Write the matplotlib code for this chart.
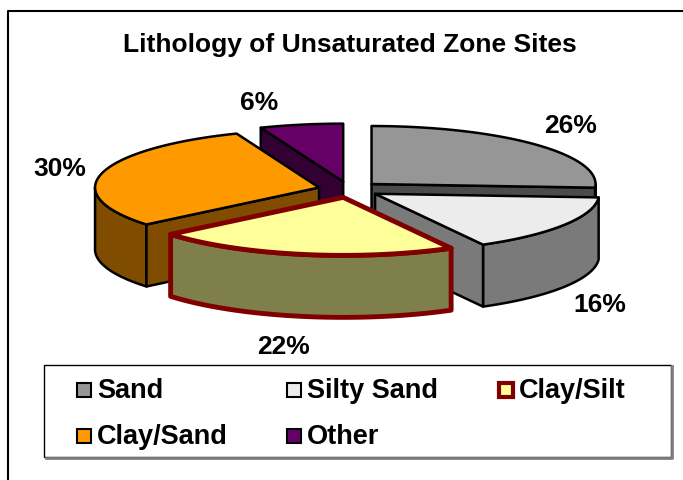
import numpy as np
import matplotlib.pyplot as plt
from matplotlib.patches import Polygon, Rectangle
from matplotlib.lines import Line2D

plt.rcParams['font.family'] = ['Liberation Sans', 'DejaVu Sans']

# Pie data
labels = ['Sand', 'Silty Sand', 'Clay/Silt', 'Clay/Sand', 'Other']
values = [26, 16, 22, 30, 6]
top_colors = ['#969696', '#ececec', '#ffff99', '#ff9900', '#660066']
side_colors = ['#4b4b4b', '#7a7a7a', '#7f7f4c', '#7f4c00', '#330033']
edge_colors = ['black', 'black', '#800000', 'black', 'black']
edge_widths = [1.8, 1.8, 3.5, 1.8, 1.8]
# where the percent labels sit (pixels)
label_pos = [(571, 126), (600, 305), (283, 347), (60, 169), (259, 103)]

fig = plt.figure(figsize=(6.83, 4.81), dpi=100)
ax = fig.add_axes([0, 0, 1, 1])
ax.set_xlim(0, 683)
ax.set_ylim(481, 0)
ax.axis('off')

# ellipse geometry of the 3D pie
cx, cy, rx, ry, depth, explode = 349, 190.5, 224, 58, 62, 0.138


def rim(px, py, t, dy=0.0):
    t = np.radians(t)
    return px + rx * np.cos(t), py - ry * np.sin(t) + dy


def arc(px, py, a, b, dy=0.0, n=60):
    ts = np.linspace(a, b, n)
    return [rim(px, py, t, dy) for t in ts]


# start at 12 o'clock going clockwise
total = float(sum(values))
starts = 90 - 360 * np.concatenate([[0], np.cumsum(values)[:-1]]) / total
ends = starts - 360 * np.array(values) / total

# back slices first
order = [4, 0, 3, 1, 2]
for i in order:
    a1, a2 = ends[i], starts[i]
    m = np.radians((a1 + a2) / 2)
    px = cx + explode * rx * np.cos(m)
    py = cy - explode * ry * np.sin(m)
    kw = dict(edgecolor=edge_colors[i], linewidth=edge_widths[i], joinstyle='round')

    # outer curved side, front half only
    lo, hi = max(a1, -180), min(a2, 0)
    if hi > lo:
        pts = arc(px, py, lo, hi) + arc(px, py, hi, lo, depth)
        ax.add_patch(Polygon(pts, closed=True, facecolor=side_colors[i], **kw))

    # radial cut faces facing the viewer
    for ang, nrm in [(a1, a1 - 90), (a2, a2 + 90)]:
        if np.sin(np.radians(nrm)) < -1e-6:
            r0 = rim(px, py, ang)
            r1 = rim(px, py, ang, depth)
            pts = [(px, py), r0, r1, (px, py + depth)]
            ax.add_patch(Polygon(pts, closed=True, facecolor=side_colors[i], **kw))

    # top face
    pts = [(px, py)] + arc(px, py, a1, a2)
    ax.add_patch(Polygon(pts, closed=True, facecolor=top_colors[i], **kw))

    lx, ly = label_pos[i]
    ax.text(lx, ly, '%d%%' % round(100 * values[i] / total), fontsize=19,
            fontweight='bold', ha='center', va='center')

ax.text(350, 45, 'Lithology of Unsaturated Zone Sites', fontsize=19,
        fontweight='bold', ha='center', va='center')

# outer chart frame
ax.add_line(Line2D([8, 8, 690], [490, 12, 12], color='black', lw=1.5))

# legend box
ax.add_line(Line2D([46, 672, 672], [459, 459, 367], color='#808080', lw=2))
ax.add_patch(Rectangle((44, 366), 627, 92, facecolor='white', edgecolor='black', lw=1))
col_x = [77, 287, 499]
row_y = [391, 437]
for i, lab in enumerate(labels):
    x = col_x[i % 3]
    y = row_y[i // 3]
    lw = 3 if i == 2 else 1.5
    ax.add_patch(Rectangle((x, y - 7), 14, 14, facecolor=top_colors[i],
                           edgecolor=edge_colors[i], lw=lw))
    ax.text(x + 20, y, lab, fontsize=19.5, fontweight='bold', ha='left', va='center')

fig.savefig('out.png', dpi=100)
